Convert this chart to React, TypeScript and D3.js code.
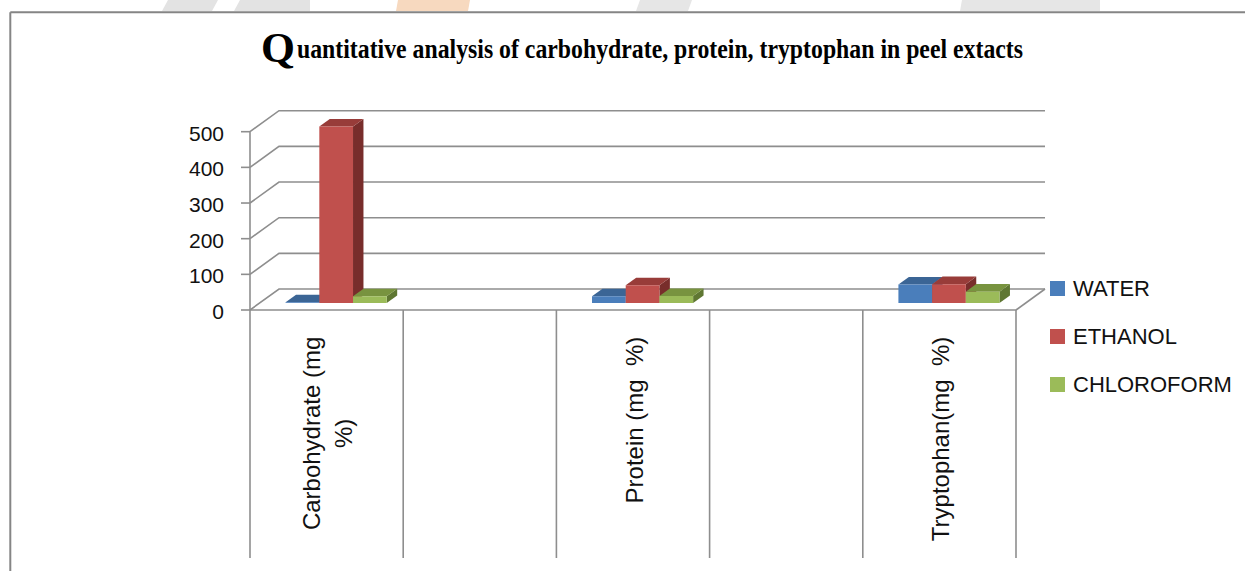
import React, { useEffect, useRef } from "react";
import * as d3 from "d3";

const title = "Quantitative analysis of carbohydrate, protein, tryptophan in peel extacts";
const categories = ["Carbohydrate (mg\n%)", "", "Protein (mg  %)", "", "Tryptophan(mg  %)"];
const seriesNames = ["WATER", "ETHANOL", "CHLOROFORM"];
const water = [2, null, 19, null, 52];
const ethanol = [495, null, 50, null, 53];
const chloroform = [19, null, 20, null, 32];
const yTicks = [0, 100, 200, 300, 400, 500];

const W = 1245;
const H = 571;

export default function App() {
  const ref = useRef<SVGSVGElement | null>(null);

  useEffect(() => {
    const svg = d3.select(ref.current);
    svg.selectAll("*").remove();

    const seriesValues = [water, ethanol, chloroform];
    const colors = [
      { front: "#4A7EBB", top: "#3B6595", side: "#2F5180" },
      { front: "#C0504D", top: "#983C39", side: "#782D2B" },
      { front: "#9BBB59", top: "#78933F", side: "#5F7732" },
    ];
    const gridColor = "#8e8e8e";
    const font = "'Liberation Sans', Arial, sans-serif";

    const x = d3.scaleBand<number>().domain(d3.range(categories.length)).range([250, 1016]);
    const y = d3.scaleLinear().domain([0, 500]).range([310, 131.7]);
    const dx = 29, dy = 21;
    const z0 = 0.33, z1 = 0.69;
    const groupFrac = 0.66;
    const groupOffset = (x.bandwidth() * (1 - groupFrac)) / 2;
    const sub = d3.scaleBand<string>().domain(seriesNames).range([0, x.bandwidth() * groupFrac]);
    const proj = (xf: number, v: number, z: number): [number, number] => [xf + z * dx, y(v) - z * dy];
    const poly = (pts: [number, number][]) => pts.map((p) => p.join(",")).join(" ");

    // background watermark fragments
    const wm = svg.append("g");
    const wmShapes: [string, [number, number][]][] = [
      ["#e3e3e3", [[168, 0], [218, 0], [212, 11], [162, 11]]],
      ["#e3e3e3", [[240, 0], [310, 0], [310, 11], [234, 11]]],
      ["#f7d9bf", [[398, 0], [470, 0], [468, 11], [396, 11]]],
      ["#e6e6e6", [[640, 0], [692, 0], [688, 11], [636, 11]]],
      ["#e6e6e6", [[962, 0], [1100, 0], [1100, 11], [960, 11]]],
    ];
    wmShapes.forEach(([c, p]) => wm.append("polygon").attr("points", poly(p)).attr("fill", c));

    // frame
    svg.append("line").attr("x1", 10.3).attr("x2", W).attr("y1", 12.3).attr("y2", 12.3)
      .attr("stroke", "#858585").attr("stroke-width", 2);
    svg.append("line").attr("x1", 10.3).attr("x2", 10.3).attr("y1", 12.3).attr("y2", H)
      .attr("stroke", "#858585").attr("stroke-width", 2);

    // title
    svg.append("text").attr("x", 261).attr("y", 62)
      .attr("font-family", "'Liberation Serif', 'Times New Roman', serif")
      .attr("font-weight", "bold").attr("font-size", 43).attr("fill", "#000")
      .attr("textLength", 34).attr("lengthAdjust", "spacingAndGlyphs")
      .text(title[0]);
    svg.append("text").attr("x", 297).attr("y", 57.5)
      .attr("font-family", "'Liberation Serif', 'Times New Roman', serif")
      .attr("font-weight", "bold").attr("font-size", 27.5).attr("fill", "#000")
      .attr("textLength", 726).attr("lengthAdjust", "spacingAndGlyphs")
      .text(title.slice(1));

    const g = svg.append("g").attr("fill", "none").attr("stroke", gridColor).attr("stroke-width", 1.6);
    const x0 = x.range()[0];
    const x1 = x.range()[1];

    // gridlines: left wall diagonals and back wall horizontals
    yTicks.forEach((t) => {
      const [ax, ay] = proj(x0, t, 0);
      const [bx, by] = proj(x0, t, 1);
      const [cx, cy] = proj(x1, t, 1);
      g.append("polyline").attr("points", poly([[ax, ay], [bx, by], [cx, cy]]));
      g.append("line").attr("x1", ax - 9).attr("x2", ax).attr("y1", ay).attr("y2", ay);
    });
    // floor front edge and right edge
    const [fr1x, fr1y] = proj(x1, 0, 0);
    const [fr2x, fr2y] = proj(x1, 0, 1);
    g.append("line").attr("x1", x0).attr("x2", fr1x).attr("y1", y(0)).attr("y2", y(0));
    g.append("line").attr("x1", fr1x).attr("x2", fr2x).attr("y1", fr1y).attr("y2", fr2y);
    // vertical axis
    g.append("line").attr("x1", x0).attr("x2", x0).attr("y1", y(500)).attr("y2", y(0));
    // category dividers
    const divs = d3.range(categories.length + 1).map((i) => x0 + i * x.step());
    divs.forEach((d) => {
      g.append("line").attr("x1", d).attr("x2", d).attr("y1", y(0)).attr("y2", 558);
    });

    // tick labels
    svg.append("g").selectAll("text").data(yTicks).join("text")
      .attr("x", 224).attr("y", (d) => y(d) + 9)
      .attr("text-anchor", "end").attr("font-family", font).attr("font-size", 21).attr("fill", "#111")
      .text((d) => String(d));

    // bars
    const bars = svg.append("g");
    categories.forEach((_, ci) => {
      seriesNames.forEach((s, si) => {
        const v = seriesValues[si][ci];
        if (v === null || v === undefined) return;
        const xa = (x(ci) as number) + groupOffset + (sub(s) as number);
        const xb = xa + sub.bandwidth();
        const c = colors[si];
        bars.append("polygon")
          .attr("points", poly([proj(xb, 0, z0), proj(xb, 0, z1), proj(xb, v, z1), proj(xb, v, z0)]))
          .attr("fill", c.side);
        bars.append("polygon")
          .attr("points", poly([proj(xa, v, z0), proj(xb, v, z0), proj(xb, v, z1), proj(xa, v, z1)]))
          .attr("fill", c.top);
        bars.append("polygon")
          .attr("points", poly([proj(xa, 0, z0), proj(xb, 0, z0), proj(xb, v, z0), proj(xa, v, z0)]))
          .attr("fill", c.front);
      });
    });

    // category labels (rotated, top-anchored, centred block)
    const labels = svg.append("g").attr("font-family", font).attr("font-size", 24).attr("fill", "#111");
    const topEdge = 336.7;
    const lineH = 31.6;
    categories.forEach((cat, ci) => {
      if (!cat) return;
      const lines = cat.split("\n");
      const center = (x(ci) as number) + x.bandwidth() / 2;
      const firstBase = center + 9.5 - ((lines.length - 1) * lineH) / 2;
      let firstLen = 0;
      lines.forEach((ln, li) => {
        const bx = firstBase + li * lineH;
        const t = labels.append("text").style("white-space", "pre").text(ln);
        if (li === 0) {
          t.attr("text-anchor", "end").attr("transform", `translate(${bx},${topEdge}) rotate(-90)`);
          firstLen = (t.node() as SVGTextElement).getComputedTextLength();
        } else {
          t.attr("text-anchor", "middle")
            .attr("transform", `translate(${bx},${topEdge + firstLen / 2}) rotate(-90)`);
        }
      });
    });

    // legend
    const lg = svg.append("g");
    seriesNames.forEach((s, i) => {
      lg.append("rect").attr("x", 1050).attr("y", 281 + i * 48).attr("width", 15).attr("height", 15)
        .attr("fill", colors[i].front);
      lg.append("text").attr("x", 1073).attr("y", 296 + i * 48)
        .attr("font-family", font).attr("font-size", 22).attr("fill", "#111").text(s);
    });
  }, []);

  return (
    <svg
      ref={ref}
      width={W}
      height={H}
      style={{ position: "absolute", left: 0, top: 0, background: "#fff" }}
    />
  );
}
